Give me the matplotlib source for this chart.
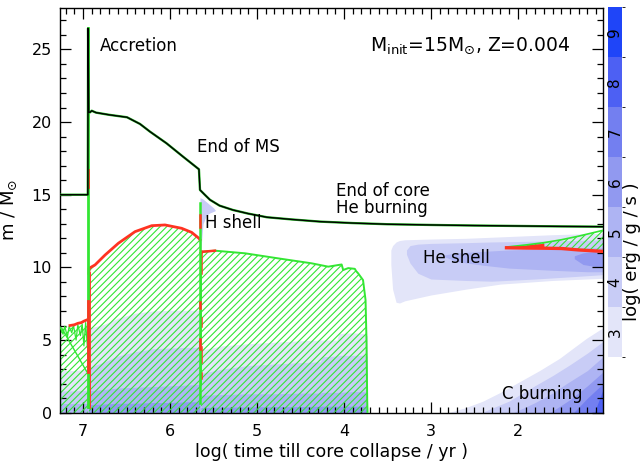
import matplotlib
matplotlib.use('Agg')
import matplotlib.pyplot as plt
from matplotlib.colors import ListedColormap, BoundaryNorm
from matplotlib.cm import ScalarMappable
from matplotlib.ticker import MultipleLocator

plt.rcParams['font.family'] = ['DejaVu Sans']
plt.rcParams['mathtext.default'] = 'regular'
plt.rcParams['hatch.linewidth'] = 0.8

GREEN = '#33e633'
RED = '#ff3322'

# ---------------- colour scale: log(eps_nuc) levels ----------------
levels = [3, 4, 5, 6, 7, 8, 9]
level_colors = ['#e3e5f9', '#c8ccf6', '#aeb4f3', '#9199f0', '#737ff0', '#4d60f3', '#1f45f8']

# ---------------- total mass ----------------
mass_t = [7.265, 6.945, 6.942, 6.935, 6.92, 6.90, 6.87, 6.85, 6.70, 6.494, 6.345, 6.23,
          6.04, 5.85, 5.667, 5.655, 5.60, 5.54, 5.43, 5.276, 5.10, 4.885, 4.60, 4.276,
          3.90, 3.50, 3.00, 2.50, 2.00, 1.50, 1.02]
mass_m = [15.0, 15.0, 26.45, 20.7, 20.67, 20.78, 20.7, 20.65, 20.5, 20.33, 19.87, 19.34,
          18.54, 17.62, 16.75, 15.33, 15.0, 14.65, 14.25, 13.95, 13.7, 13.45, 13.3, 13.15,
          13.05, 12.97, 12.92, 12.88, 12.85, 12.82, 12.8]

# ---------------- energy generation, core burning phases (bottom = 0) ----------------
pre_t = [7.265, 7.1, 6.94]
pre_lev = {3: [2.9, 2.9, 3.0], 4: [1.5, 1.5, 1.55], 5: [0.6, 0.6, 0.6]}

ms_t = [6.94, 6.75, 6.6, 6.4, 6.2, 6.0, 5.8, 5.655]
ms_l3 = [5.8, 6.1, 6.5, 6.85, 7.0, 7.05, 7.05, 7.05]
ms_l4 = [3.1, 3.5, 3.9, 4.2, 4.4, 4.45, 4.5, 4.5]
ms_l5 = [1.5, 1.6, 1.7, 1.75, 1.8, 1.85, 1.9, 1.95]
ms_l6 = [0.55, 0.6, 0.65, 0.65, 0.7, 0.7, 0.75, 0.75]

pms_t = [5.645, 5.4, 5.1, 4.8, 4.5, 4.27, 4.25, 4.08, 4.06, 3.9, 3.78, 3.73]
pms_l3 = [4.3, 4.6, 4.75, 4.85, 4.95, 5.0, 5.0, 5.0, 5.45, 5.5, 5.45, 5.3]
pms_l4 = [2.7, 3.0, 3.25, 3.35, 3.45, 3.5, 3.85, 3.9, 3.95, 3.95, 3.95, 3.9]
pms_l5 = [1.2, 1.25, 1.3, 1.3, 1.35, 1.35, 1.4, 1.4, 1.4, 1.45, 1.45, 1.4]
pms_l6 = [0.35, 0.38, 0.4, 0.42, 0.42, 0.45, 0.45, 0.45, 0.45, 0.45, 0.45, 0.4]

# H-shell ignition blob
hs_t = [5.655, 5.62, 5.58, 5.54, 5.5, 5.48]
hs_up = [14.8, 14.7, 14.5, 14.3, 14.1, 13.95]
hs_lo = [10.5, 13.0, 13.6, 13.75, 13.85, 13.9]

# ---------------- He shell burning ----------------
he3_t = [3.46, 3.44, 3.40, 3.36, 3.3, 3.0, 2.6, 2.2, 1.6, 1.02]
he3_up = [11.2, 11.5, 11.75, 11.85, 11.9, 11.95, 12.0, 12.1, 12.25, 12.35]
he3_lo = [10.2, 8.5, 7.6, 7.55, 7.7, 8.1, 8.5, 8.85, 9.1, 9.25]
he4_t = [3.28, 3.24, 3.15, 3.0, 2.6, 2.3, 1.8, 1.4, 1.02]
he4_up = [11.2, 11.5, 11.6, 11.65, 11.7, 11.75, 11.8, 11.85, 11.9]
he4_lo = [10.9, 10.3, 9.6, 9.2, 9.1, 9.05, 9.2, 9.35, 9.5]
he5_t = [2.85, 2.7, 2.4, 2.1, 1.6, 1.2, 1.02]
he5_up = [10.85, 11.0, 11.1, 11.2, 11.3, 11.35, 11.35]
he5_lo = [10.75, 10.4, 10.15, 9.95, 9.8, 9.7, 9.7]
he6_t = [1.35, 1.25, 1.1, 1.02]
he6_up = [10.8, 11.0, 11.1, 11.15]
he6_lo = [10.6, 10.2, 10.05, 10.0]

# ---------------- C burning (bottom = 0) ----------------
c3_t = [2.8, 2.6, 2.4, 2.2, 1.98, 1.75, 1.52, 1.35, 1.21, 1.02]
c3_m = [0, 0.35, 0.8, 1.4, 2.13, 2.9, 3.74, 4.5, 5.12, 5.85]
c4_t = [2.42, 2.1, 1.79, 1.6, 1.4, 1.2, 1.02]
c4_m = [0, 0.8, 1.9, 2.55, 3.3, 4.1, 4.9]
c5_t = [2.05, 1.8, 1.6, 1.44, 1.2, 1.02]
c5_m = [0, 0.7, 1.35, 2.0, 2.9, 3.85]
c6_t = [1.63, 1.4, 1.2, 1.02]
c6_m = [0, 0.9, 1.85, 2.8]
c7_t = [1.36, 1.2, 1.02]
c7_m = [0, 1.0, 2.0]
c8_t = [1.12, 1.02]
c8_m = [0, 1.6]

# ---------------- convective zones ----------------
z1_t = [7.265, 7.1, 6.942]
z1_top = [5.85, 5.95, 6.1]
z1_saw_t = [7.265, 7.23, 7.21, 7.18, 7.16, 7.13, 7.11, 7.08, 7.06, 7.03, 7.01, 6.99, 6.97, 6.95]
z1_saw_m = [5.9, 5.4, 5.95, 5.2, 5.95, 5.5, 6.0, 5.0, 6.05, 5.3, 6.1, 4.6, 6.2, 4.5]
z1_diag_t = [7.245, 6.957]
z1_diag_m = [5.82, 2.82]
z1_red_t = [7.15, 7.1, 7.06, 7.02, 6.99, 6.97, 6.95]
z1_red_m = [6.0, 6.05, 6.15, 6.2, 6.3, 6.35, 6.4]

z2_t = [6.932, 6.93, 6.862, 6.747, 6.594, 6.402, 6.21, 6.057, 5.866, 5.751, 5.667, 5.655]
z2_top = [9.6, 9.94, 10.17, 10.85, 11.66, 12.46, 12.87, 12.92, 12.69, 12.41, 12.0, 11.9]

z3_t = [5.645, 5.617, 5.483, 5.138, 4.755, 4.371, 4.18, 4.026, 4.008, 3.95, 3.874,
        3.86, 3.836, 3.78, 3.751, 3.74, 3.732, 3.728]
z3_top = [11.0, 11.08, 11.15, 10.97, 10.62, 10.28, 10.05, 10.2, 9.82, 9.95, 9.9,
          9.75, 9.59, 9.13, 7.76, 5.0, 0.87, 0.0]

hc_t = [2.13, 1.9, 1.7, 1.5, 1.3, 1.02]
hc_up = [11.4, 11.55, 11.7, 11.9, 12.15, 12.55]
hc_lo = [11.35, 11.33, 11.32, 11.3, 11.2, 11.1]
hc_red_t = [2.13, 2.0, 1.9, 1.8, 1.7]
hc_red_up = [11.4, 11.5, 11.55, 11.62, 11.65]
hc_red_lo = [11.35, 11.34, 11.33, 11.33, 11.32]

accr_t = 6.942
accr_span = [0.4, 26.45]
accr_red = [(2.8, 7.7), (15.5, 16.7)]
hsh_t = 5.655
hsh_span = [0.7, 14.4]
hsh_red = [(12.8, 13.6), (7.2, 7.6), (4.4, 5.1)]
z3_left_red = [(9.6, 11.1), (6.0, 6.5), (3.5, 4.5), (2.4, 2.7)]

# ---------------- figure ----------------
fig = plt.figure(figsize=(6.42, 4.68), dpi=100)
ax = fig.add_axes([60 / 642, 1 - 412.7 / 468, 543 / 642, 404.7 / 468])
col = dict(zip(levels, level_colors))

# energy generation
for lev, top in pre_lev.items():
    ax.fill_between(pre_t, 0, top, color=col[lev], lw=0, zorder=1)
for lev, top in zip([3, 4, 5, 6], [ms_l3, ms_l4, ms_l5, ms_l6]):
    ax.fill_between(ms_t, 0, top, color=col[lev], lw=0, zorder=1)
for lev, top in zip([3, 4, 5, 6], [pms_l3, pms_l4, pms_l5, pms_l6]):
    ax.fill_between(pms_t, 0, top, color=col[lev], lw=0, zorder=1)
ax.fill_between(hs_t, hs_lo, hs_up, color=col[4], lw=0, zorder=1)
for lev, tt, lo, up in zip([3, 4, 5, 6], [he3_t, he4_t, he5_t, he6_t],
                           [he3_lo, he4_lo, he5_lo, he6_lo], [he3_up, he4_up, he5_up, he6_up]):
    ax.fill_between(tt, lo, up, color=col[lev], lw=0, zorder=1)
for lev, tt, mm in zip([3, 4, 5, 6, 7, 8], [c3_t, c4_t, c5_t, c6_t, c7_t, c8_t],
                       [c3_m, c4_m, c5_m, c6_m, c7_m, c8_m]):
    ax.fill_between(tt, 0, mm, color=col[lev], lw=0, zorder=1)

# convective zones (hatched)
HATCH = '/////'
for tt, top in [(z1_t, z1_top), (z2_t, z2_top), (z3_t, z3_top)]:
    ax.fill_between(tt, 0, top, facecolor='none', edgecolor=GREEN, hatch=HATCH, lw=0, zorder=2)
ax.fill_between(hc_t, hc_lo, hc_up, facecolor='none', edgecolor=GREEN, hatch=HATCH, lw=0, zorder=2)
ax.fill_between(hc_red_t, hc_red_lo, hc_red_up, color=RED, lw=0, zorder=3)

# zone edges
ax.plot(z1_saw_t, z1_saw_m, color=GREEN, lw=0.9, zorder=3)
ax.plot(z1_diag_t, z1_diag_m, color=GREEN, lw=1.0, zorder=3)
ax.plot(z1_red_t, z1_red_m, color=RED, lw=2.0, zorder=3)
ax.plot(z2_t, z2_top, color=RED, lw=2.0, zorder=3)
ax.plot([z2_t[0], z2_t[0]], [0.4, z2_top[0]], color=RED, lw=2.0, zorder=3)
ax.plot(z3_t, z3_top, color=GREEN, lw=1.4, zorder=3)
ax.plot(z3_t[:3], z3_top[:3], color=RED, lw=1.8, zorder=3)
ax.plot([z3_t[0], z3_t[0]], [2.0, z3_top[0]], color=GREEN, lw=1.2, zorder=3)
for lo, hi in z3_left_red:
    ax.plot([z3_t[0], z3_t[0]], [lo, hi], color=RED, lw=1.8, zorder=3)
ax.plot(hc_t, hc_up, color=GREEN, lw=1.2, zorder=3)
ax.plot(hc_t, hc_lo, color=RED, lw=2.4, zorder=3)

# vertical lines: accretion and H-shell ignition
ax.plot([accr_t, accr_t], accr_span, color=GREEN, lw=2.0, zorder=4)
for lo, hi in accr_red:
    ax.plot([accr_t, accr_t], [lo, hi], color=RED, lw=2.0, zorder=4)
ax.plot([hsh_t, hsh_t], hsh_span, color=GREEN, lw=1.8, zorder=4)
for lo, hi in hsh_red:
    ax.plot([hsh_t, hsh_t], [lo, hi], color=RED, lw=1.8, zorder=4)

# total mass
ax.plot(mass_t, mass_m, color='#22b322', lw=1.7, zorder=5)
ax.plot(mass_t, mass_m, color='black', lw=1.0, zorder=6)

# axes
ax.set_xlim(7.265, 1.02)
ax.set_ylim(0, 27.85)
ax.xaxis.set_major_locator(MultipleLocator(1))
ax.xaxis.set_minor_locator(MultipleLocator(0.1))
ax.yaxis.set_major_locator(MultipleLocator(5))
ax.yaxis.set_minor_locator(MultipleLocator(1))
ax.tick_params(which='both', direction='in', top=True, right=True, width=0.9, labelsize=11.5)
ax.tick_params(which='major', length=8)
ax.tick_params(which='minor', length=4)
ax.tick_params(axis='x', pad=8)
ax.tick_params(axis='y', pad=6)
for s in ax.spines.values():
    s.set_linewidth(1.0)

ax.set_xlabel('log( time till core collapse / yr )', fontsize=12.5)
ax.xaxis.set_label_coords(0.5, -0.075)
ax.set_ylabel('m / M$_{\\odot}$', fontsize=13)
ax.yaxis.set_label_coords(-0.075, 0.5)

tk = dict(fontsize=12, ha='left', va='baseline', zorder=7)
ax.text(6.805, 24.91, 'Accretion', **tk)
ax.text(5.69, 17.96, 'End of MS', **tk)
ax.text(5.60, 12.69, 'H shell', **tk)
ax.text(4.09, 15.85, 'End of core\nHe burning', fontsize=12, ha='left', va='top',
        linespacing=0.92, zorder=7)
ax.text(3.09, 10.28, 'He shell', **tk)
ax.text(2.184, 0.94, 'C burning', **tk)
ax.text(3.70, 24.9, 'M$_{\\rm init}$=15M$_{\\odot}$, Z=0.004', fontsize=13.5, ha='left',
        va='baseline', zorder=7)

# colour bar
cax = fig.add_axes([608 / 642, (468 - 357) / 468, 14 / 642, 350 / 468])
bounds = [l - 0.5 for l in levels] + [levels[-1] + 0.5]
sm = ScalarMappable(norm=BoundaryNorm(bounds, len(levels)), cmap=ListedColormap(level_colors))
cb = fig.colorbar(sm, cax=cax)
cb.outline.set_visible(False)
cax.set_yticks([])
cax.tick_params(length=0)
for lev in levels:
    cax.text(0.5, lev, str(lev), transform=cax.get_yaxis_transform(), rotation=90,
             ha='center', va='center', fontsize=11)
fig.text(632 / 642, 1 - 252 / 468, 'log( erg / g / s )', rotation=90, ha='center',
         va='center', fontsize=13)

fig.savefig('out.png', dpi=100)
